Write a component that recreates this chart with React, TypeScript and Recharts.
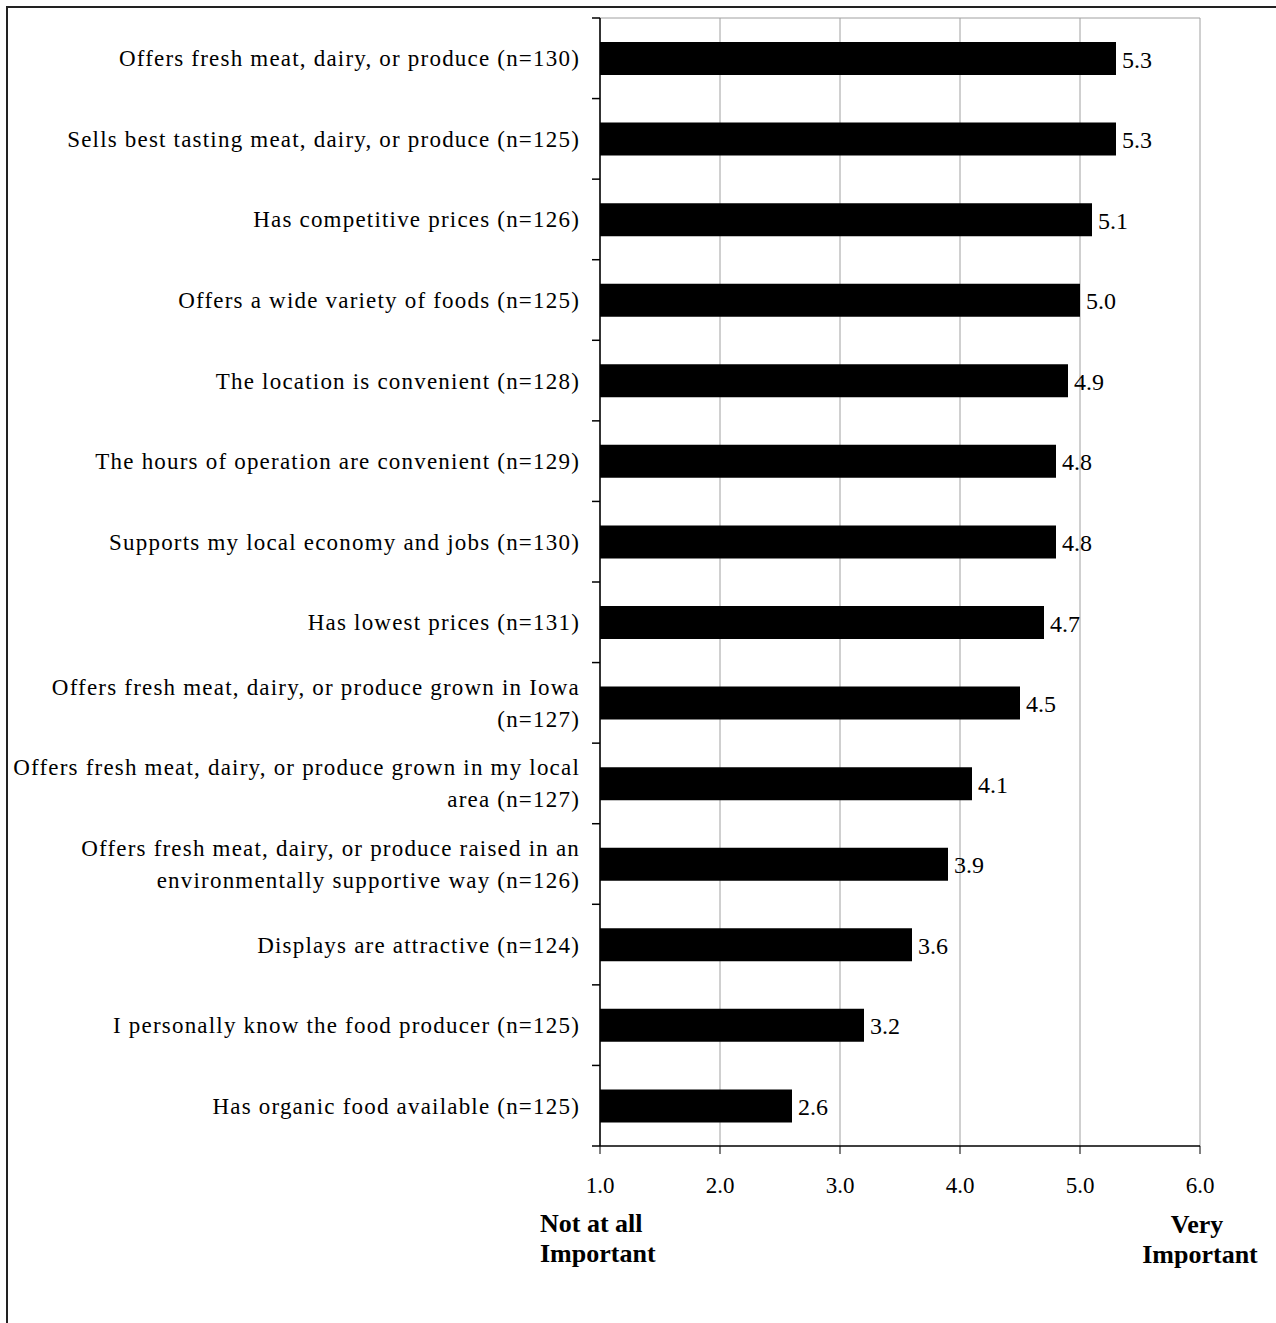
import React from 'react';
import { BarChart, Bar, XAxis, YAxis, CartesianGrid, LabelList } from 'recharts';

// Survey items (line breaks mark where long labels wrap)
const categories = [
  'Offers fresh meat, dairy, or produce (n=130)',
  'Sells best tasting meat, dairy, or produce (n=125)',
  'Has competitive prices (n=126)',
  'Offers a wide variety of foods (n=125)',
  'The location is convenient (n=128)',
  'The hours of operation are convenient (n=129)',
  'Supports my local economy and jobs (n=130)',
  'Has lowest prices (n=131)',
  'Offers fresh meat, dairy, or produce grown in Iowa\n(n=127)',
  'Offers fresh meat, dairy, or produce grown in my local\narea (n=127)',
  'Offers fresh meat, dairy, or produce raised in an\nenvironmentally supportive way (n=126)',
  'Displays are attractive (n=124)',
  'I personally know the food producer (n=125)',
  'Has organic food available (n=125)',
];

// Mean importance rating (1 = not at all important, 6 = very important)
const meanImportance = [5.3, 5.3, 5.1, 5.0, 4.9, 4.8, 4.8, 4.7, 4.5, 4.1, 3.9, 3.6, 3.2, 2.6];

const xTicks = [1, 2, 3, 4, 5, 6];
const scaleLowLabel = ['Not at all', 'Important'];
const scaleHighLabel = ['Very', 'Important'];

const data = categories.map((name, i) => ({ name, value: meanImportance[i] }));

const W = 1276;
const H = 1323;
const PLOT_LEFT = 600;
const PLOT_RIGHT = 1200;
const PLOT_TOP = 18;
const PLOT_BOTTOM = 1146;
const BAND = (PLOT_BOTTOM - PLOT_TOP) / categories.length;
const FONT = '"Liberation Serif", "Times New Roman", serif';

const CategoryTick = (props: any) => {
  const { y, payload, index } = props;
  const lines = String(payload.value).split('\n');
  const lineH = 32;
  const start = -((lines.length - 1) * lineH) / 2;
  const last = index === categories.length - 1;
  return (
    <g>
      <line x1={PLOT_LEFT - 8} x2={PLOT_LEFT} y1={y - BAND / 2} y2={y - BAND / 2} stroke="#000" strokeWidth={1.5} />
      {last && (
        <line x1={PLOT_LEFT - 8} x2={PLOT_LEFT} y1={y + BAND / 2} y2={y + BAND / 2} stroke="#000" strokeWidth={1.5} />
      )}
      <text textAnchor="end" fontFamily={FONT} fontSize={23} letterSpacing={1.2} fill="#000">
        {lines.map((l, i) => (
          <tspan key={i} x={580} y={y + start + i * lineH + 8}>
            {l}
          </tspan>
        ))}
      </text>
    </g>
  );
};

const ValueTick = (props: any) => {
  const { x, payload } = props;
  return (
    <text x={x} y={PLOT_BOTTOM + 47} textAnchor="middle" fontFamily={FONT} fontSize={23} fill="#000">
      {Number(payload.value).toFixed(1)}
    </text>
  );
};

const BarValueLabel = (props: any) => {
  const { x, y, width, height, value } = props;
  return (
    <text
      x={x + width + 6}
      y={y + height / 2 + 9}
      textAnchor="start"
      fontFamily={FONT}
      fontSize={24}
      fill="#000"
    >
      {Number(value).toFixed(1)}
    </text>
  );
};

export default function App() {
  return (
    <div
      style={{
        position: 'absolute',
        left: 0,
        top: 0,
        width: W,
        height: H,
        overflow: 'hidden',
        background: '#fff',
      }}
    >
      <div
        style={{
          position: 'absolute',
          left: 6,
          top: 6,
          width: 1400,
          height: 1400,
          borderTop: '2px solid #222',
          borderLeft: '2px solid #222',
        }}
      />
      <div style={{ position: 'absolute', left: 0, top: 0 }}>
        <BarChart
          width={W}
          height={H}
          data={data}
          layout="vertical"
          margin={{ top: PLOT_TOP, right: W - PLOT_RIGHT, bottom: H - PLOT_BOTTOM - 60, left: 0 }}
          barSize={33}
        >
          <CartesianGrid vertical horizontal horizontalPoints={[PLOT_TOP]} stroke="#a0a0a0" strokeWidth={1} />
          <XAxis
            type="number"
            domain={[1, 6]}
            ticks={xTicks}
            allowDataOverflow
            height={60}
            tickSize={8}
            tick={<ValueTick />}
            axisLine={{ stroke: '#000', strokeWidth: 1.5 }}
            tickLine={{ stroke: '#000', strokeWidth: 1 }}
          />
          <YAxis
            type="category"
            dataKey="name"
            width={PLOT_LEFT}
            interval={0}
            tick={<CategoryTick />}
            tickLine={false}
            axisLine={{ stroke: '#000', strokeWidth: 1.5 }}
          />
          <Bar dataKey="value" fill="#000" isAnimationActive={false}>
            <LabelList dataKey="value" content={<BarValueLabel />} />
          </Bar>
        </BarChart>
      </div>
      <svg width={W} height={H} style={{ position: 'absolute', left: 0, top: 0, pointerEvents: 'none' }}>
        <g fontFamily={FONT} fontSize={26} fontWeight="bold" fill="#000">
          <text x={540} y={1232}>{scaleLowLabel[0]}</text>
          <text x={540} y={1262}>{scaleLowLabel[1]}</text>
          <text x={1197} y={1233} textAnchor="middle">{scaleHighLabel[0]}</text>
          <text x={1200} y={1263} textAnchor="middle">{scaleHighLabel[1]}</text>
        </g>
      </svg>
    </div>
  );
}
